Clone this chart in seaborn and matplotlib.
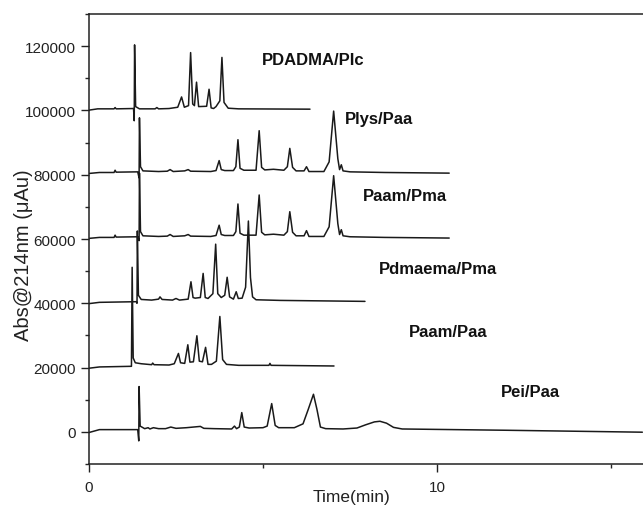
import matplotlib
matplotlib.use("Agg")
import matplotlib.pyplot as plt
import seaborn as sns
import pandas as pd
from matplotlib.ticker import MultipleLocator

# Chromatogram traces (time in min, absorbance in µAu), stacked with offsets
pdadma_t = [0, 0.25, 0.72, 0.75, 0.78, 1.28, 1.30, 1.31, 1.34, 1.45, 1.90, 1.95, 2.00, 2.30, 2.55, 2.66,
            2.74, 2.86, 2.92, 2.98, 3.03, 3.09, 3.15, 3.38, 3.45, 3.51, 3.58, 3.65, 3.76, 3.82, 3.88, 4.00,
            4.30, 6.35]
pdadma_v = [100100, 100500, 100500, 100900, 100500, 100600, 96800, 120400, 101200, 100500, 100500, 100900,
            100500, 100600, 101000, 104200, 101000, 101500, 118000, 102000, 101500, 108800, 101200, 101300,
            106600, 100800, 100600, 101200, 103000, 116500, 102500, 100700, 100500, 100400]

plys_t = [0, 0.30, 0.72, 0.75, 0.78, 1.40, 1.44, 1.45, 1.48, 1.55, 2.00, 2.25, 2.33, 2.42, 2.75, 2.85,
          2.92, 3.50, 3.65, 3.74, 3.80, 3.90, 4.15, 4.22, 4.28, 4.34, 4.45, 4.80, 4.89, 4.96, 5.05, 5.30,
          5.60, 5.70, 5.77, 5.85, 5.95, 6.18, 6.25, 6.32, 6.75, 6.90, 7.03, 7.15, 7.20, 7.25, 7.30, 7.50,
          8.50, 10.35]
plys_v = [80400, 80700, 80700, 81400, 80800, 80900, 79000, 97700, 82500, 81200, 81000, 81100, 81600, 81000,
          81200, 81600, 81100, 81000, 81300, 84400, 81600, 81300, 81300, 82500, 90900, 82000, 81400, 81400,
          93700, 82300, 81500, 81700, 81400, 82500, 88200, 82300, 81200, 81200, 82500, 81000, 81000, 84000,
          99800, 85000, 81600, 83100, 81200, 80900, 80700, 80500]

paam_pma_t = [0, 0.30, 0.72, 0.75, 0.78, 1.40, 1.44, 1.45, 1.48, 1.55, 2.00, 2.25, 2.33, 2.42, 2.75, 2.85,
              2.92, 3.50, 3.65, 3.74, 3.80, 3.90, 4.15, 4.22, 4.28, 4.34, 4.45, 4.80, 4.89, 4.96, 5.05, 5.30,
              5.60, 5.70, 5.77, 5.85, 5.95, 6.18, 6.25, 6.32, 6.75, 6.90, 7.03, 7.15, 7.20, 7.25, 7.30, 7.50,
              8.50, 10.35]
paam_pma_v = [60200, 60500, 60500, 61200, 60600, 60700, 59500, 80500, 62300, 61000, 60800, 60900, 61400,
              60800, 61000, 61400, 60900, 60800, 61100, 64300, 61400, 61100, 61100, 62300, 70900, 61800,
              61200, 61200, 73700, 62100, 61300, 61500, 61200, 62300, 68500, 62100, 61000, 61000, 62600,
              60800, 60800, 63800, 79700, 64800, 61400, 62900, 61000, 60700, 60500, 60300]

pdmaema_t = [0, 0.30, 1.36, 1.38, 1.39, 1.42, 1.50, 1.80, 2.00, 2.04, 2.10, 2.40, 2.50, 2.60, 2.85, 2.93,
             2.99, 3.05, 3.20, 3.28, 3.34, 3.42, 3.56, 3.64, 3.70, 3.80, 3.90, 3.97, 4.04, 4.15, 4.23, 4.29,
             4.40, 4.50, 4.58, 4.64, 4.70, 4.80, 5.50, 7.93]
pdmaema_v = [39900, 40300, 40500, 40000, 62500, 42500, 41200, 41000, 41300, 42000, 41200, 41000, 41500,
             41000, 41300, 46700, 41800, 41600, 41800, 49300, 41800, 41500, 43000, 58400, 43000, 41800,
             42500, 48100, 42000, 41300, 43600, 41500, 41600, 45000, 65600, 48000, 42000, 41100, 40900,
             40600]

paam_paa_t = [0, 0.30, 1.22, 1.24, 1.27, 1.33, 1.50, 1.80, 1.83, 1.87, 2.30, 2.45, 2.57, 2.63, 2.75, 2.84,
              2.90, 3.00, 3.10, 3.17, 3.26, 3.35, 3.42, 3.52, 3.66, 3.76, 3.84, 3.95, 4.30, 5.17, 5.20,
              5.23, 7.04]
paam_paa_v = [19800, 20200, 20400, 51200, 23000, 21500, 21200, 20900, 21400, 20900, 20800, 21200, 24400,
              21500, 21300, 27100, 21700, 21800, 29900, 22000, 21800, 26300, 21000, 21000, 22000, 35900,
              22500, 21000, 20700, 20700, 21300, 20700, 20500]

pei_t = [0, 0.30, 1.40, 1.43, 1.44, 1.47, 1.60, 1.70, 1.75, 1.85, 2.00, 2.20, 2.35, 2.50, 2.80, 3.20,
         3.30, 3.60, 4.10, 4.18, 4.24, 4.32, 4.39, 4.46, 4.60, 5.00, 5.12, 5.25, 5.35, 5.45, 5.90, 6.15,
         6.30, 6.45, 6.55, 6.65, 6.80, 7.30, 7.70, 7.95, 8.20, 8.36, 8.55, 8.75, 9.00, 12.00, 15.90]
pei_v = [-200, 700, 700, -2800, 14100, 1800, 1000, 1300, 900, 1300, 1000, 1000, 1500, 1100, 1300, 1700,
         1100, 1000, 900, 1800, 1000, 1500, 6000, 1500, 1200, 1300, 1800, 8800, 2000, 1300, 1300, 2500,
         7000, 11700, 7000, 1500, 1000, 900, 1200, 2200, 3100, 3300, 2700, 1400, 900, 500, -100]

trace_names = ["PDADMA/PIc", "Plys/Paa", "Paam/Pma", "Pdmaema/Pma", "Paam/Paa", "Pei/Paa"]
label_x = [4.97, 7.36, 7.87, 8.33, 9.20, 11.84]
label_y = [115800, 97350, 73400, 50960, 31350, 12670]

traces = [(pdadma_t, pdadma_v), (plys_t, plys_v), (paam_pma_t, paam_pma_v),
          (pdmaema_t, pdmaema_v), (paam_paa_t, paam_paa_v), (pei_t, pei_v)]

frames = []
for name, (t, v) in zip(trace_names, traces):
    frames.append(pd.DataFrame({"time": t, "abs": v, "trace": name}))
df = pd.concat(frames, ignore_index=True)

sns.set_theme(style="ticks")
plt.rcParams["font.family"] = ["Liberation Sans", "DejaVu Sans"]

fig = plt.figure(figsize=(6.43, 5.06), dpi=100)
ax = fig.add_axes([0.1384, 0.081, 0.866, 0.8893])

sns.lineplot(data=df, x="time", y="abs", units="trace", estimator=None, sort=False,
             color="#1a1a1a", linewidth=1.1, ax=ax, legend=False)

for name, x, y in zip(trace_names, label_x, label_y):
    ax.text(x, y, name, fontsize=12, fontweight="bold", ha="left", va="center", color="#111111")

ax.set_xlim(0, 16)
ax.set_ylim(-10000, 130000)
ax.xaxis.set_major_locator(MultipleLocator(10))
ax.xaxis.set_minor_locator(MultipleLocator(5))
ax.yaxis.set_major_locator(MultipleLocator(20000))
ax.yaxis.set_minor_locator(MultipleLocator(10000))

for side in ["left", "bottom", "top", "right"]:
    ax.spines[side].set_visible(True)
    ax.spines[side].set_linewidth(1.1)
    ax.spines[side].set_color("#222222")

ax.tick_params(which="major", direction="out", length=5.5, width=1.0, pad=4,
               labelsize=11, colors="#222222", top=False, right=False)
ax.tick_params(axis="x", which="major", pad=6)
ax.tick_params(which="minor", direction="out", length=3, width=1.0, top=False, right=False)

ax.set_xlabel("Time(min)", fontsize=12.5, color="#222222")
ax.set_ylabel("Abs@214nm (\u03bcAu)", fontsize=14.5, color="#222222")
ax.xaxis.set_label_coords(0.472, -0.056)
ax.yaxis.set_label_coords(-0.100, 0.467)

fig.savefig("out.png", dpi=100)
